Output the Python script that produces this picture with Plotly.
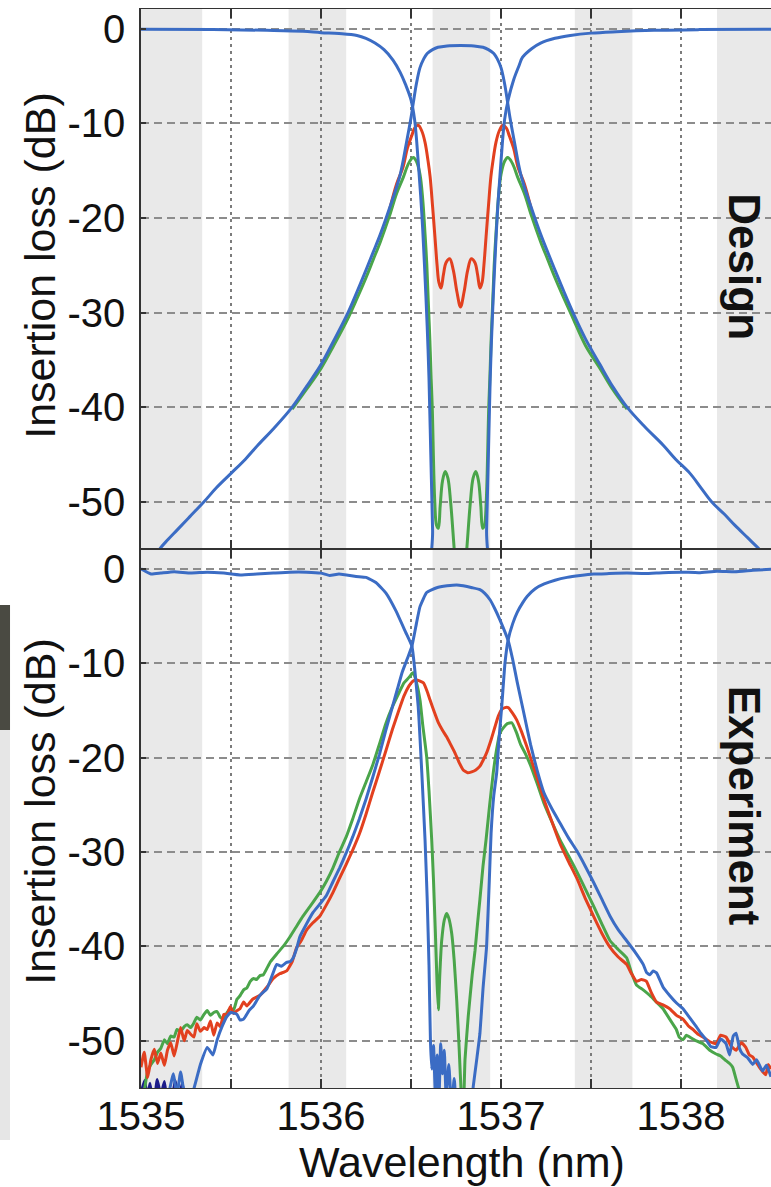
import plotly.graph_objects as go

# ---------------- data ----------------
# Design panel
design_thru_x = [1535.0, 1535.4, 1535.7, 1535.9, 1536.0, 1536.1, 1536.2, 1536.25, 1536.3, 1536.35, 1536.4,
                 1536.44, 1536.47, 1536.5, 1536.52, 1536.54, 1536.56, 1536.575, 1536.59, 1536.6, 1536.61,
                 1536.62, 1536.63,
                 1536.91, 1536.92, 1536.93, 1536.94, 1536.95, 1536.965, 1536.98, 1537.0, 1537.02, 1537.04,
                 1537.07, 1537.1, 1537.12, 1537.17, 1537.22, 1537.3, 1537.385, 1537.5, 1537.64, 1537.85,
                 1538.1, 1538.5]
design_thru_y = [-0.05, -0.08, -0.15, -0.25, -0.4, -0.5, -0.7, -1.0, -1.5, -2.2, -3.3,
                 -4.6, -5.9, -7.5, -9.6, -14.0, -19.5, -25.0, -31.5, -37.0, -45.0,
                 -53.0, -62.0,
                 -62.0, -53.0, -45.0, -37.0, -31.5, -25.0, -19.5, -14.0, -9.6, -7.5,
                 -5.4, -3.9, -3.0, -2.1, -1.5, -1.0, -0.7, -0.45, -0.3, -0.15,
                 -0.08, -0.05]

design_drop_x = [1535.05, 1535.1, 1535.15, 1535.2, 1535.27, 1535.35, 1535.42, 1535.5, 1535.58, 1535.65,
                 1535.74, 1535.84, 1535.92, 1536.0, 1536.07, 1536.15, 1536.2, 1536.25, 1536.29, 1536.33,
                 1536.38, 1536.44, 1536.476, 1536.5, 1536.513, 1536.53, 1536.55, 1536.57, 1536.59, 1536.62,
                 1536.65, 1536.7, 1536.775, 1536.85, 1536.9, 1536.93, 1536.96, 1536.98, 1537.0, 1537.02,
                 1537.037, 1537.05, 1537.074, 1537.11, 1537.17, 1537.22, 1537.3, 1537.35, 1537.4, 1537.47,
                 1537.55, 1537.62, 1537.7, 1537.8, 1537.9, 1537.97, 1538.05, 1538.11, 1538.17, 1538.24,
                 1538.3, 1538.37, 1538.44, 1538.5]
design_drop_y = [-57.0, -55.1, -54.0, -53.0, -51.6, -50.0, -48.5, -47.0, -45.5, -44.0,
                 -42.2, -40.0, -37.8, -35.5, -33.0, -30.0, -27.8, -25.5, -23.6, -21.7,
                 -19.0, -15.4, -11.9, -9.4, -7.8, -5.8, -4.1, -3.2, -2.6, -2.2,
                 -1.95, -1.8, -1.75, -1.8, -1.95, -2.2, -2.6, -3.2, -4.1, -5.8,
                 -7.8, -9.4, -11.9, -15.4, -19.0, -21.7, -25.5, -27.8, -30.0, -32.8,
                 -35.5, -37.8, -40.0, -42.1, -44.0, -45.5, -47.0, -48.5, -50.0, -51.3,
                 -52.5, -53.8, -55.1, -56.3]

design_red_x = [1536.38, 1536.42, 1536.456, 1536.48, 1536.504, 1536.52, 1536.54, 1536.56, 1536.578, 1536.595,
                1536.606, 1536.62, 1536.633, 1536.645, 1536.655, 1536.667, 1536.68, 1536.695, 1536.715, 1536.735,
                1536.755, 1536.775, 1536.795, 1536.815, 1536.835, 1536.855, 1536.87, 1536.883, 1536.895, 1536.905,
                1536.917, 1536.93, 1536.944, 1536.955, 1536.972, 1536.99, 1537.01, 1537.03, 1537.046, 1537.07,
                1537.094, 1537.13, 1537.17]
design_red_y = [-19.2, -16.4, -14.6, -12.6, -11.3, -10.5, -10.2, -10.8, -12.0, -14.0,
                -15.6, -18.8, -22.0, -25.0, -26.8, -27.4, -26.0, -24.7, -24.3, -25.5,
                -27.8, -29.4, -27.8, -25.5, -24.3, -24.7, -26.0, -27.4, -26.8, -25.0,
                -22.0, -18.8, -15.6, -14.0, -12.0, -10.8, -10.2, -10.5, -11.3, -12.6,
                -14.6, -16.4, -19.2]

design_green_x = [1535.84, 1535.92, 1536.0, 1536.07, 1536.15, 1536.2, 1536.25, 1536.29, 1536.33, 1536.38,
                  1536.42, 1536.457, 1536.48, 1536.5, 1536.513,
                  1536.53, 1536.55, 1536.565, 1536.578, 1536.588, 1536.596, 1536.605, 1536.612, 1536.618, 1536.632,
                  1536.642, 1536.652, 1536.662, 1536.675, 1536.69, 1536.705, 1536.72, 1536.74, 1536.76, 1536.775,
                  1536.79, 1536.81, 1536.83, 1536.845, 1536.86, 1536.875, 1536.888, 1536.898, 1536.908, 1536.918,
                  1536.932, 1536.938, 1536.945, 1536.954, 1536.962, 1536.972, 1536.985, 1537.0, 1537.02, 1537.037,
                  1537.05, 1537.07, 1537.093, 1537.13, 1537.17, 1537.22, 1537.26, 1537.3, 1537.35, 1537.4,
                  1537.47, 1537.55, 1537.62, 1537.7]
design_green_y = [-40.2, -38.1, -35.9, -33.5, -30.6, -28.5, -26.3, -24.4, -22.5, -19.8,
                  -17.4, -15.7, -14.5, -13.8, -13.6,
                  -14.0, -15.4, -18.0, -21.7, -25.0, -28.8, -33.0, -37.0, -40.0, -50.0,
                  -52.5, -52.8, -50.5, -47.8, -46.8, -47.5, -50.0, -55.0, -60.0, -63.0,
                  -60.0, -55.0, -50.0, -47.5, -46.8, -47.8, -50.5, -52.8, -52.5, -50.0,
                  -40.0, -37.0, -33.0, -28.8, -25.0, -21.7, -18.0, -15.4, -14.0, -13.6,
                  -13.8, -14.5, -15.7, -17.4, -19.8, -22.5, -24.4, -26.3, -28.5, -30.6,
                  -33.5, -35.9, -38.1, -40.2]

# Experiment panel
exp_thru_x = [1535.0, 1535.055, 1535.11, 1535.184, 1535.276, 1535.368, 1535.46, 1535.55, 1535.643, 1535.735,
              1535.827, 1535.919, 1536.0, 1536.048, 1536.1, 1536.195, 1536.25, 1536.305, 1536.36, 1536.415,
              1536.47, 1536.505, 1536.54, 1536.56, 1536.578, 1536.59, 1536.6, 1536.608, 1536.615, 1536.625,
              1536.635, 1536.645, 1536.655, 1536.665, 1536.675, 1536.685, 1536.695, 1536.71, 1536.725, 1536.74,
              1536.755, 1536.78, 1536.81, 1536.835, 1536.846, 1536.865, 1536.883, 1536.9, 1536.92, 1536.935,
              1536.945, 1536.96, 1536.976, 1536.99, 1537.004, 1537.022, 1537.04, 1537.065, 1537.09, 1537.12,
              1537.146, 1537.19, 1537.24, 1537.3, 1537.367, 1537.44, 1537.514, 1537.6, 1537.7, 1537.8,
              1537.9, 1538.0, 1538.1, 1538.2, 1538.3, 1538.4, 1538.5]
exp_thru_y = [0.0, -0.55, -0.45, -0.3, -0.45, -0.35, -0.45, -0.65, -0.55, -0.45,
              -0.35, -0.35, -0.45, -0.7, -0.55, -0.8, -0.9, -1.45, -2.55, -4.4,
              -6.7, -8.2, -14.6, -21.6, -28.7, -35.0, -42.0, -50.0, -53.0, -50.5,
              -55.5, -51.5, -56.5, -50.3, -53.5, -51.0, -55.8, -52.5, -57.0, -54.0,
              -58.0, -60.0, -59.0, -57.0, -54.8, -52.0, -49.2, -44.5, -40.0, -33.0,
              -28.0, -24.0, -21.6, -17.8, -14.6, -10.0, -7.5, -5.8, -4.6, -3.6,
              -2.9, -2.1, -1.6, -1.2, -0.9, -0.7, -0.55, -0.5, -0.45, -0.5,
              -0.4, -0.35, -0.4, -0.25, -0.3, -0.15, -0.05]

exp_drop_x = [1535.15, 1535.18, 1535.2, 1535.22, 1535.25, 1535.29, 1535.33, 1535.368, 1535.4, 1535.423,
              1535.45, 1535.478, 1535.5, 1535.533, 1535.55, 1535.57, 1535.6, 1535.625, 1535.66, 1535.699,
              1535.73, 1535.754, 1535.78, 1535.809, 1535.83, 1535.846, 1535.865, 1535.882, 1535.92, 1535.956,
              1535.99, 1536.03, 1536.065, 1536.103, 1536.14, 1536.176, 1536.213, 1536.25, 1536.287, 1536.324,
              1536.36, 1536.397, 1536.425, 1536.452, 1536.48, 1536.505, 1536.53, 1536.55, 1536.587, 1536.643,
              1536.7, 1536.754, 1536.79, 1536.84, 1536.883, 1536.91, 1536.94, 1536.965, 1536.994, 1537.02,
              1537.04, 1537.065, 1537.09, 1537.127, 1537.164, 1537.2, 1537.238, 1537.285, 1537.33, 1537.375,
              1537.422, 1537.468, 1537.514, 1537.56, 1537.606, 1537.65, 1537.698, 1537.745, 1537.79, 1537.81,
              1537.827, 1537.845, 1537.864, 1537.9, 1537.937, 1537.975, 1538.011, 1538.05, 1538.085, 1538.11,
              1538.14, 1538.165, 1538.195, 1538.22, 1538.25, 1538.27, 1538.29, 1538.306, 1538.325, 1538.342,
              1538.37, 1538.398, 1538.42, 1538.453, 1538.475, 1538.5]
exp_drop_y = [-56.0, -53.5, -55.8, -53.3, -56.5, -55.3, -52.5, -50.7, -51.5, -49.9,
              -48.5, -47.4, -47.0, -47.2, -47.8, -47.7, -46.8, -46.3, -45.2, -44.5,
              -43.0, -41.9, -42.1, -41.7, -41.6, -41.2, -40.2, -39.0, -37.6, -36.4,
              -35.6, -34.6, -33.2, -31.7, -30.1, -28.4, -26.5, -24.4, -22.1, -19.7,
              -17.1, -14.6, -12.7, -10.9, -9.5, -8.2, -5.8, -4.0, -2.5, -2.0,
              -1.8, -1.7, -1.8, -2.0, -2.2, -2.6, -3.3, -4.2, -5.4, -6.6,
              -7.6, -9.6, -12.0, -15.3, -18.6, -21.3, -23.7, -25.5, -27.0, -28.5,
              -29.9, -31.5, -33.2, -35.0, -36.8, -38.2, -39.4, -40.6, -41.9, -42.8,
              -43.0, -42.6, -42.8, -44.3, -45.2, -46.0, -46.6, -47.6, -48.5, -49.2,
              -49.9, -50.6, -50.7, -49.8, -50.3, -51.5, -49.5, -49.2, -50.8, -51.4,
              -51.8, -52.5, -52.0, -53.2, -52.6, -53.8]

exp_red_x = [1535.0, 1535.018, 1535.037, 1535.055, 1535.074, 1535.092, 1535.11, 1535.13, 1535.147, 1535.165,
             1535.184, 1535.2, 1535.22, 1535.24, 1535.257, 1535.276, 1535.294, 1535.31, 1535.33, 1535.35,
             1535.368, 1535.386, 1535.404, 1535.423, 1535.44, 1535.46, 1535.478, 1535.496, 1535.515, 1535.533,
             1535.55, 1535.57, 1535.588, 1535.62, 1535.66, 1535.7, 1535.735, 1535.77, 1535.809, 1535.84,
             1535.865, 1535.89, 1535.919, 1535.955, 1535.993, 1536.03, 1536.066, 1536.1, 1536.14, 1536.176,
             1536.213, 1536.25, 1536.287, 1536.324, 1536.36, 1536.397, 1536.434, 1536.46, 1536.489, 1536.51,
             1536.53, 1536.55, 1536.57, 1536.59, 1536.606, 1536.63, 1536.652, 1536.675, 1536.698, 1536.72,
             1536.744, 1536.767, 1536.79, 1536.815, 1536.837, 1536.86, 1536.883, 1536.9, 1536.92, 1536.945,
             1536.967, 1536.985, 1537.004, 1537.022, 1537.04, 1537.065, 1537.087, 1537.115, 1537.143, 1537.19,
             1537.238, 1537.285, 1537.33, 1537.375, 1537.422, 1537.468, 1537.514, 1537.56, 1537.606, 1537.65,
             1537.698, 1537.725, 1537.753, 1537.78, 1537.808, 1537.835, 1537.864, 1537.9, 1537.937, 1537.975,
             1538.011, 1538.04, 1538.066, 1538.095, 1538.122, 1538.16, 1538.195, 1538.22, 1538.25, 1538.28,
             1538.306, 1538.335, 1538.36, 1538.38, 1538.398, 1538.415, 1538.435, 1538.455, 1538.471, 1538.485,
             1538.5]
exp_red_y = [-52.8, -51.2, -53.9, -52.0, -50.9, -52.4, -51.3, -52.6, -51.0, -50.2,
             -51.6, -50.3, -48.6, -50.0, -48.9, -49.3, -49.6, -48.2, -49.0, -48.6,
             -48.8, -47.9, -49.4, -48.1, -48.5, -47.2, -47.2, -46.4, -47.1, -46.8,
             -46.6, -45.9, -46.3, -45.6, -45.2, -44.3, -43.4, -42.9, -42.6, -41.6,
             -40.1, -39.4, -38.3, -37.5, -36.8, -35.6, -34.3, -32.9, -31.3, -29.8,
             -28.1, -26.0, -23.7, -21.5, -19.3, -17.0, -14.9, -13.5, -12.4, -11.9,
             -11.75, -11.9, -12.1, -13.0, -13.9, -15.2, -16.3, -17.1, -17.8, -18.6,
             -19.5, -20.5, -21.3, -21.6, -21.5, -21.3, -20.9, -20.3, -19.5, -18.1,
             -16.7, -15.6, -14.9, -14.7, -14.7, -15.3, -16.0, -17.3, -18.8, -21.5,
             -24.4, -26.9, -29.2, -31.0, -32.8, -34.9, -36.8, -38.6, -40.1, -41.1,
             -41.9, -42.9, -43.7, -43.5, -43.7, -44.9, -45.9, -46.2, -46.6, -47.3,
             -47.7, -48.4, -48.8, -49.3, -49.6, -50.1, -50.3, -49.4, -49.6, -50.6,
             -51.0, -50.2, -50.7, -51.5, -51.7, -52.2, -52.8, -53.3, -53.6, -52.5,
             -53.0]

exp_green_x = [1535.0, 1535.018, 1535.037, 1535.055, 1535.074, 1535.092, 1535.11, 1535.13, 1535.147, 1535.165,
               1535.184, 1535.2, 1535.22, 1535.24, 1535.257, 1535.276, 1535.294, 1535.31, 1535.33, 1535.35,
               1535.368, 1535.386, 1535.404, 1535.423, 1535.44, 1535.46, 1535.478, 1535.496, 1535.515, 1535.533,
               1535.551, 1535.57, 1535.588, 1535.607, 1535.625, 1535.643, 1535.66, 1535.68, 1535.7, 1535.72,
               1535.754, 1535.79, 1535.827, 1535.86, 1535.9, 1535.945, 1535.993, 1536.03, 1536.066, 1536.1,
               1536.14, 1536.176, 1536.213, 1536.25, 1536.287, 1536.324, 1536.36, 1536.397, 1536.434, 1536.46,
               1536.489, 1536.505, 1536.513, 1536.53, 1536.55, 1536.565, 1536.587, 1536.6, 1536.615, 1536.625,
               1536.635, 1536.645, 1536.652, 1536.66, 1536.67, 1536.685, 1536.698, 1536.71, 1536.726, 1536.74,
               1536.754, 1536.768, 1536.78, 1536.79, 1536.8, 1536.818, 1536.84, 1536.856, 1536.87, 1536.883,
               1536.9, 1536.917, 1536.937, 1536.957, 1536.975, 1536.994, 1537.015, 1537.035, 1537.06, 1537.085,
               1537.109, 1537.136, 1537.164, 1537.2, 1537.238, 1537.285, 1537.33, 1537.375, 1537.422, 1537.468,
               1537.514, 1537.56, 1537.606, 1537.65, 1537.698, 1537.725, 1537.753, 1537.79, 1537.827, 1537.864,
               1537.9, 1537.937, 1537.974, 1537.99, 1538.011, 1538.03, 1538.048, 1538.085, 1538.122, 1538.16,
               1538.195, 1538.22, 1538.25, 1538.27, 1538.287, 1538.305, 1538.324, 1538.34]
exp_green_y = [-57.0, -55.3, -53.2, -52.5, -52.0, -51.2, -50.8, -49.9, -50.3, -49.5,
               -49.6, -48.8, -49.0, -48.5, -48.3, -48.6, -48.1, -47.5, -47.8, -47.2,
               -46.8, -47.3, -47.0, -46.9, -47.5, -47.7, -47.0, -46.6, -46.7, -45.6,
               -45.2, -44.6, -44.4, -43.7, -43.4, -43.5, -43.1, -43.0, -42.3, -41.6,
               -40.8, -40.0, -39.0, -38.0, -36.8, -35.6, -34.3, -33.1, -31.7, -30.1,
               -28.4, -26.5, -24.4, -22.6, -20.8, -18.6, -16.4, -14.6, -13.1, -12.1,
               -11.5, -11.1, -11.0, -12.0, -13.9, -16.5, -19.9, -23.5, -28.7, -33.0,
               -38.3, -44.0, -46.7, -43.0, -39.5, -37.2, -36.5, -37.0, -38.6, -41.5,
               -45.7, -51.0, -56.0, -58.0, -52.0, -47.4, -43.0, -40.4, -37.5, -35.0,
               -31.5, -28.7, -25.0, -21.6, -19.2, -17.4, -16.8, -16.4, -16.3, -17.3,
               -18.6, -19.6, -20.8, -22.7, -24.8, -26.9, -28.8, -30.4, -32.1, -33.9,
               -35.7, -37.6, -39.4, -40.3, -41.2, -42.8, -44.1, -44.6, -45.2, -45.9,
               -46.6, -47.7, -48.8, -49.6, -49.9, -49.4, -49.6, -50.0, -50.3, -51.0,
               -51.4, -51.6, -52.1, -52.4, -52.8, -54.0, -55.3, -57.0]

exp_navy_x = [1535.0, 1535.02, 1535.035, 1535.05, 1535.07, 1535.09, 1535.11, 1535.13, 1535.15, 1535.17,
              1535.19, 1535.21, 1535.23, 1535.25, 1535.27]
exp_navy_y = [-55.5, -54.2, -56.0, -54.5, -57.0, -54.1, -55.8, -54.3, -57.0, -56.5,
              -54.2, -56.0, -54.5, -57.0, -56.0]

# shaded wavelength bands
band_starts = [1535.0, 1535.82, 1536.62, 1537.41, 1538.2]
band_ends = [1535.34, 1536.14, 1536.94, 1537.73, 1538.5]

x_tickvals = [1535, 1535.5, 1536, 1536.5, 1537, 1537.5, 1538]
x_ticktext = ["1535", "", "1536", "", "1537", "", "1538"]
y_tickvals = [0, -10, -20, -30, -40, -50]
y_ticktext = ["0", "-10", "-20", "-30", "-40", "-50"]

# ---------------- styles ----------------
BLUE = "#3b6cc4"
RED = "#e2401f"
GREEN = "#4aa54a"
NAVY = "#1c1c8a"
LW = 3.0
FONT = "Arial, Liberation Sans, Helvetica, sans-serif"

fig = go.Figure()


def add(x, y, color, xa, ya, smooth=1.0):
    fig.add_trace(go.Scatter(x=x, y=y, mode="lines", xaxis=xa, yaxis=ya,
                             line=dict(color=color, width=LW, shape="spline", smoothing=smooth),
                             hoverinfo="skip", showlegend=False))


# design panel (top)
add(design_red_x, design_red_y, RED, "x", "y")
add(design_green_x, design_green_y, GREEN, "x", "y")
add(design_drop_x, design_drop_y, BLUE, "x", "y")
add(design_thru_x, design_thru_y, BLUE, "x", "y")
# experiment panel (bottom)
add(exp_navy_x, exp_navy_y, NAVY, "x2", "y2", 0.3)
add(exp_green_x, exp_green_y, GREEN, "x2", "y2", 0.4)
add(exp_red_x, exp_red_y, RED, "x2", "y2", 0.4)
add(exp_drop_x, exp_drop_y, BLUE, "x2", "y2", 0.4)
add(exp_thru_x, exp_thru_y, BLUE, "x2", "y2", 0.4)

split = 0.4995
common_x = dict(range=[1535, 1538.5], tickvals=x_tickvals, ticktext=x_ticktext,
                ticks="inside", ticklen=9, tickwidth=1.6, tickcolor="#333",
                showline=True, linecolor="#333", linewidth=1.4, mirror="ticks",
                showgrid=True, gridcolor="#7c7c7c", gridwidth=1.8, griddash="3px,4px",
                zeroline=False, tickfont=dict(family=FONT, size=40, color="#111"))
common_y = dict(range=[-55, 2.1], tickvals=y_tickvals, ticktext=y_ticktext,
                ticks="inside", ticklen=5, tickwidth=1.6, tickcolor="#333",
                showline=True, linecolor="#333", linewidth=1.6, mirror=False,
                showgrid=True, gridcolor="#8c8c8c", gridwidth=1.6, griddash="8px,5px",
                zeroline=False, tickfont=dict(family=FONT, size=40, color="#111"),
                ticklabelstandoff=6)

fig.update_layout(
    width=771, height=1187,
    margin=dict(l=141, r=0, t=9, b=99),
    paper_bgcolor="white", plot_bgcolor="white",
    xaxis=dict(common_x, anchor="y", showticklabels=False),
    yaxis=dict(common_y, anchor="x", domain=[split, 1]),
    xaxis2=dict(common_x, anchor="y2", showticklabels=True, ticklabelstandoff=-7),
    yaxis2=dict(common_y, anchor="x2", domain=[0, split]),
)

shapes = []
for xa, ya in (("x", "y domain"), ("x2", "y2 domain")):
    for s, e in zip(band_starts, band_ends):
        shapes.append(dict(type="rect", xref=xa, yref=ya, x0=s, x1=e, y0=0, y1=1,
                           fillcolor="#e9e9e9", line=dict(width=0), layer="below"))
# screenshot artefact on far left edge
shapes.append(dict(type="rect", xref="paper", yref="paper", x0=-0.2238, x1=-0.2079, y0=0.3318, y1=0.4476,
                   fillcolor="#4a4a42", line=dict(width=0), layer="above"))
shapes.append(dict(type="rect", xref="paper", yref="paper", x0=-0.2238, x1=-0.2079, y0=-0.0482, y1=0.3318,
                   fillcolor="#e6e6e6", line=dict(width=0), layer="above"))
fig.update_layout(shapes=shapes)

ann_font = dict(family=FONT, size=43, color="#111")
bold_font = dict(family=FONT, size=44, color="#111")
fig.update_layout(annotations=[
    dict(text="Insertion loss (dB)", xref="paper", yref="paper", x=-0.1603, y=0.762,
         textangle=-90, showarrow=False, font=ann_font, xanchor="center", yanchor="middle"),
    dict(text="Insertion loss (dB)", xref="paper", yref="paper", x=-0.1603, y=0.256,
         textangle=-90, showarrow=False, font=ann_font, xanchor="center", yanchor="middle"),
    dict(text="Wavelength (nm)", xref="paper", yref="paper", x=0.5095, y=-0.069,
         showarrow=False, font=ann_font, xanchor="center", yanchor="middle"),
    dict(text="<b>Design</b>", xref="paper", yref="paper", x=0.958, y=0.761,
         textangle=90, showarrow=False, font=bold_font, xanchor="center", yanchor="middle"),
    dict(text="<b>Experiment</b>", xref="paper", yref="paper", x=0.958, y=0.262,
         textangle=90, showarrow=False, font=bold_font, xanchor="center", yanchor="middle"),
])

fig.write_html("out.html")
